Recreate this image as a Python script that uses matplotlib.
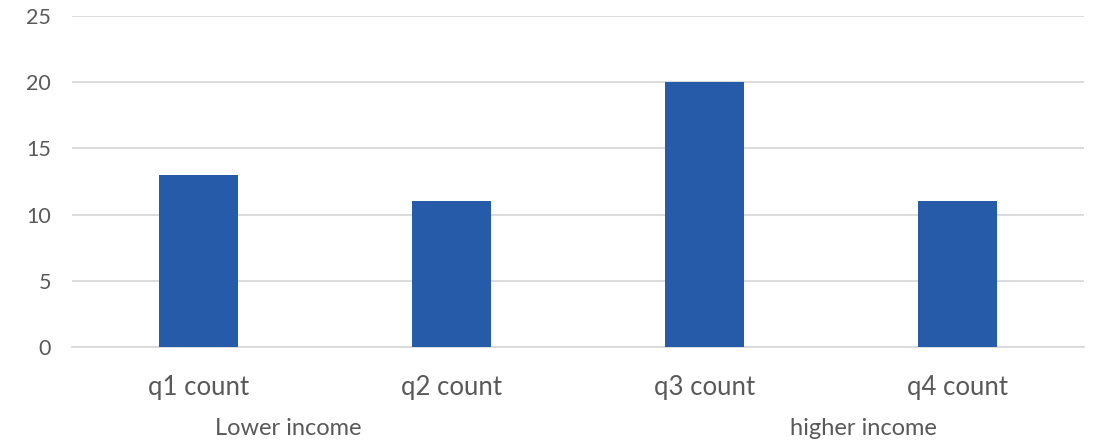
import matplotlib
matplotlib.use("Agg")
import matplotlib.pyplot as plt

categories = ["q1 count", "q2 count", "q3 count", "q4 count"]
counts = [13, 11, 20, 11]
y_ticks = [0, 5, 10, 15, 20, 25]
group_labels = ["Lower income", "higher income"]

bar_color = "#255BA8"
text_color = "#595959"
grid_color = "#D9D9D9"

plt.rcParams["font.family"] = ["Lato", "DejaVu Sans"]

fig = plt.figure(figsize=(10.96, 4.42), dpi=100)
ax = fig.add_axes([72 / 1096, (442 - 347) / 442, (1084 - 72) / 1096, (347 - 16) / 442])

x = list(range(len(categories)))
ax.bar(x, counts, width=0.316, color=bar_color, zorder=3)

ax.set_xlim(-0.5, len(categories) - 0.5)
ax.set_ylim(0, 25)
ax.set_yticks(y_ticks)
ax.set_yticklabels([str(t) for t in y_ticks])
ax.set_xticks(x)
ax.set_xticklabels(categories)

ax.grid(axis="y", color=grid_color, linewidth=1.3, zorder=0)
for s in ["top", "right", "left"]:
    ax.spines[s].set_visible(False)
ax.spines["bottom"].set_color(grid_color)
ax.spines["bottom"].set_linewidth(1.3)

ax.tick_params(axis="x", length=0, pad=20, labelsize=18.5, labelcolor=text_color)
ax.tick_params(axis="y", length=0, pad=15, labelsize=15.5, labelcolor=text_color)

# group captions under the first and last pairs of categories
ax.text(0.354, -0.246, group_labels[0], transform=ax.get_xaxis_transform(),
        ha="center", va="center", fontsize=17, color=text_color)
ax.text(2.627, -0.246, group_labels[1], transform=ax.get_xaxis_transform(),
        ha="center", va="center", fontsize=17, color=text_color)

fig.savefig("out.png", dpi=100)
